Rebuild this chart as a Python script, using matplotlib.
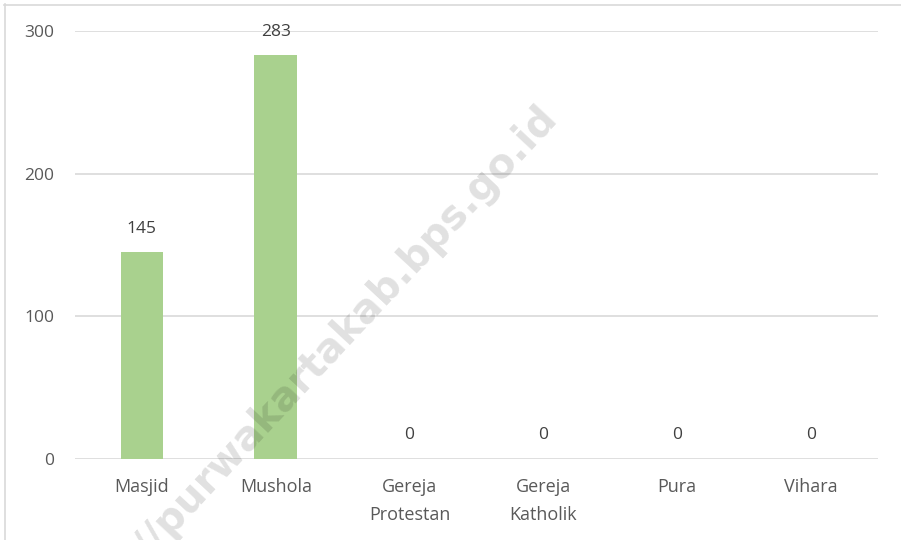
import matplotlib.pyplot as plt
from matplotlib.lines import Line2D
import numpy as np

# data
kategori = ['Masjid', 'Mushola', 'Gereja\nProtestan', 'Gereja\nKatholik', 'Pura', 'Vihara']
jumlah = [145, 283, 0, 0, 0, 0]
y_ticks = [0, 100, 200, 300]
watermark = 'http://purwakartakab.bps.go.id'

plt.rcParams['font.family'] = ['Open Sans', 'DejaVu Sans']

fig = plt.figure(figsize=(9.01, 5.40), dpi=100)
ax = fig.add_axes([75/901, 81/540, 803/901, 428/540])

x = np.arange(len(kategori))
bars = ax.bar(x, jumlah, width=0.32, color='#A9D18E', zorder=2)

# value labels above the bars
for xi, v in zip(x, jumlah):
    ax.annotate(str(v), (xi, v), xytext=(0, 17), textcoords='offset points',
                ha='center', va='center', fontsize=12.5, color='#404040')

ax.set_xlim(-0.5, len(kategori) - 0.5)
ax.set_ylim(0, 300)
ax.set_yticks(y_ticks)
ax.set_xticks(x)
ax.set_xticklabels(kategori, linespacing=1.7)
ax.tick_params(axis='both', length=0, labelsize=13, labelcolor='#595959')
ax.tick_params(axis='y', labelsize=12.5, pad=15)
ax.tick_params(axis='x', pad=14)
ax.grid(axis='y', color='#D9D9D9', linewidth=1.2, zorder=0)
for s in ax.spines.values():
    s.set_visible(False)

# outer border (top and left visible in the reference)
fig.add_artist(Line2D([4/901, 1], [1 - 4.5/540, 1 - 4.5/540], transform=fig.transFigure,
                      color='#D9D9D9', linewidth=1.2))
fig.add_artist(Line2D([4.5/901, 4.5/901], [0, 1 - 4/540], transform=fig.transFigure,
                      color='#D9D9D9', linewidth=1.2))

# watermark
fig.text(559/901, 1 - 118/540, watermark, rotation=47, rotation_mode='anchor',
         ha='right', va='baseline', fontsize=29, fontweight='bold',
         family=['DejaVu Sans'], color='black', alpha=0.12, zorder=5)

fig.savefig('out.png', dpi=100)
